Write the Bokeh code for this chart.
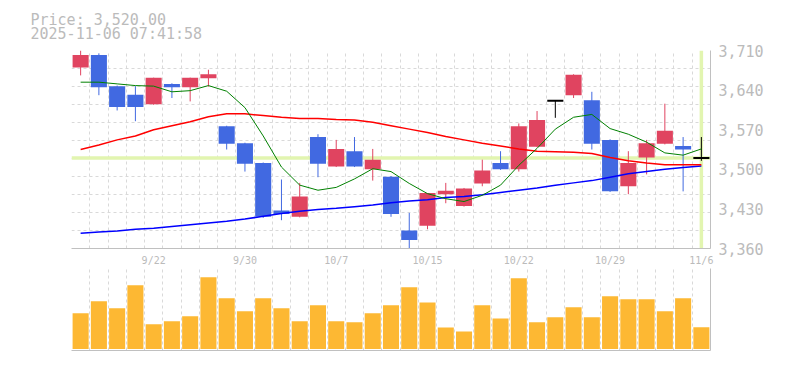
from bokeh.plotting import figure
from bokeh.layouts import column
from bokeh.models import ColumnDataSource, FixedTicker, Span, Range1d, NumeralTickFormatter
from bokeh.embed import file_html
from bokeh.resources import INLINE

# ---- data ----
dates = ["9/16", "9/17", "9/18", "9/19", "9/22", "9/24", "9/25", "9/26", "9/29", "9/30",
         "10/1", "10/2", "10/3", "10/6", "10/7", "10/8", "10/9", "10/10", "10/14", "10/15",
         "10/16", "10/17", "10/20", "10/21", "10/22", "10/23", "10/24", "10/27", "10/28", "10/29",
         "10/30", "10/31", "11/4", "11/5", "11/6"]
labeled_dates = ["9/22", "9/30", "10/7", "10/15", "10/22", "10/29", "11/6"]

open_ = [3680, 3702, 3647, 3632, 3615, 3651, 3645, 3661, 3576, 3546,
         3511, 3427, 3416, 3557, 3505, 3532, 3500, 3487, 3392, 3400,
         3456, 3435, 3475, 3511, 3500, 3540, 3621, 3631, 3622, 3552,
         3470, 3521, 3545, 3541, 3520]
high = [3710, 3705, 3648, 3647, 3662, 3652, 3662, 3676, 3577, 3547,
        3512, 3482, 3476, 3562, 3552, 3557, 3536, 3488, 3423, 3458,
        3476, 3467, 3517, 3532, 3581, 3603, 3621, 3668, 3637, 3553,
        3532, 3552, 3616, 3557, 3557]
low = [3666, 3631, 3604, 3585, 3614, 3626, 3620, 3646, 3535, 3496,
       3414, 3410, 3415, 3486, 3504, 3504, 3480, 3416, 3360, 3394,
       3440, 3434, 3470, 3499, 3496, 3539, 3591, 3626, 3535, 3460,
       3456, 3491, 3544, 3461, 3515]
close = [3702, 3645, 3610, 3610, 3662, 3645, 3662, 3668, 3545, 3510,
         3416, 3421, 3452, 3510, 3536, 3505, 3517, 3421, 3375, 3458,
         3462, 3466, 3498, 3500, 3576, 3587, 3621, 3667, 3545, 3461,
         3511, 3546, 3568, 3535, 3520]
ma5 = [3654, 3654, 3651, 3648, 3647, 3637, 3639, 3648, 3638, 3609,
       3559, 3504, 3472, 3463, 3468, 3483, 3501, 3496, 3475, 3457,
       3448, 3443, 3454, 3472, 3507, 3537, 3571, 3592, 3597, 3572,
       3562, 3548, 3529, 3525, 3536]
ma25 = [3535, 3543, 3552, 3559, 3570, 3577, 3584, 3593, 3598, 3598,
        3595, 3592, 3590, 3590, 3588, 3587, 3583, 3577, 3571, 3565,
        3558, 3552, 3546, 3541, 3536, 3532, 3531, 3530, 3528, 3521,
        3515, 3511, 3508, 3508, 3508]
ma75 = [3387, 3389, 3391, 3394, 3396, 3399, 3402, 3405, 3408, 3412,
        3417, 3422, 3426, 3429, 3431, 3434, 3437, 3441, 3444, 3446,
        3450, 3452, 3455, 3459, 3463, 3467, 3472, 3476, 3480, 3486,
        3492, 3496, 3500, 3503, 3506]
volume = [358, 478, 408, 638, 248, 278, 328, 718, 508, 378,
          508, 408, 278, 438, 278, 268, 358, 438, 618, 465,
          215, 175, 438, 305, 708, 268, 318, 418, 318, 528,
          498, 498, 378, 508, 218]  # thousand shares
last_price = 3520
price_ticks = [3360, 3430, 3500, 3570, 3640, 3710]
header_lines = ["Price: 3,520.00", "2025-11-06 07:41:58"]

# ---- styles ----
UP = "#e04460"
DOWN = "#4169e1"
FLAT = "#000000"
GRID = "#d9d9d9"
TXT = "#bbbbbb"
AXL = "#c0c0c0"
FONT = "DejaVu Sans Mono"
CROSS = "#e2f5b0"

idx = list(range(len(dates)))
colors = [UP if c > o else (DOWN if c < o else FLAT) for o, c in zip(open_, close)]
src = ColumnDataSource(dict(
    x=idx, open=open_, high=high, low=low, close=close,
    color=colors, ma5=ma5, ma25=ma25, ma75=ma75, vol=volume))
flat_idx = [i for i in idx if open_[i] == close[i]]
flat_src = ColumnDataSource(dict(x=flat_idx, y=[close[i] for i in flat_idx]))
body_idx = [i for i in idx if open_[i] != close[i]]
body_src = ColumnDataSource(dict(
    x=body_idx,
    top=[max(open_[i], close[i]) for i in body_idx],
    bottom=[min(open_[i], close[i]) for i in body_idx],
    color=[colors[i] for i in body_idx]))

xr = Range1d(-0.5, len(dates) - 0.5)
bounds = [i - 0.5 for i in range(len(dates) + 1)]

W = 780
p = figure(width=W, height=268, x_range=xr, y_range=Range1d(3360, 3710),
           y_axis_location="right", output_backend="svg", toolbar_location=None,
           min_border_left=71, min_border_right=70, min_border_top=50, min_border_bottom=18,
           title="\n".join(header_lines))
p.title.text_font = FONT
p.title.text_font_size = "15px"
p.title.text_font_style = "normal"
p.title.text_color = TXT
p.title.text_line_height = 0.79
p.title.align = "left"
p.title.offset = -48
p.title.standoff = 0
p.title.padding = 7
p.outline_line_color = None

p.xgrid.ticker = FixedTicker(ticks=bounds)
p.ygrid.ticker = FixedTicker(ticks=[3360 + k * 350 / 11 for k in range(12)])
for g in (p.xgrid, p.ygrid):
    g.grid_line_color = GRID
    g.grid_line_dash = "3 3"
    g.grid_line_width = 1

p.yaxis.ticker = FixedTicker(ticks=price_ticks)
p.yaxis.formatter = NumeralTickFormatter(format="0,0")
p.xaxis.ticker = FixedTicker(ticks=[dates.index(d) for d in labeled_dates])
p.xaxis.major_label_overrides = {dates.index(d): d for d in labeled_dates}
for ax in (p.xaxis, p.yaxis):
    ax.axis_line_color = AXL
    ax.major_tick_line_color = None
    ax.minor_tick_line_color = None
    ax.major_tick_out = 0
    ax.major_tick_in = 0
    ax.minor_tick_out = 0
    ax.major_label_text_color = TXT
    ax.major_label_text_font = FONT
p.yaxis.major_label_text_font_size = "15px"
p.yaxis.major_label_standoff = 8
p.xaxis.major_label_text_font_size = "10px"
p.xaxis.major_label_standoff = 6

p.add_layout(Span(location=last_price, dimension="width", line_color=CROSS,
                  line_width=3.5, level="underlay"))
p.add_layout(Span(location=idx[-1], dimension="height", line_color=CROSS,
                  line_width=3.5, level="underlay"))

p.segment(x0="x", y0="low", x1="x", y1="high", color="color", line_width=1, source=src)
p.vbar(x="x", width=0.88, top="top", bottom="bottom", fill_color="color",
       line_color=None, source=body_src)
p.rect(x="x", y="y", width=0.88, height=2, height_units="screen", fill_color=FLAT,
       line_color=None, source=flat_src)
p.line("x", "ma75", color="#0000ff", line_width=1.5, source=src)
p.line("x", "ma25", color="#ff0000", line_width=1.5, source=src)
p.line("x", "ma5", color="#008000", line_width=1, source=src)

v = figure(width=W, height=92, x_range=xr, y_range=Range1d(-15, 805),
           y_axis_location="right", output_backend="svg", toolbar_location=None,
           min_border_left=71, min_border_right=70, min_border_top=0, min_border_bottom=10)
v.outline_line_color = None
v.xgrid.ticker = FixedTicker(ticks=bounds)
v.xgrid.grid_line_color = GRID
v.xgrid.grid_line_dash = "3 3"
v.ygrid.visible = False
v.xaxis.ticker = FixedTicker(ticks=[])
v.yaxis.ticker = FixedTicker(ticks=[])
for ax in (v.xaxis, v.yaxis):
    ax.axis_line_color = AXL
    ax.major_tick_line_color = None
    ax.minor_tick_line_color = None
    ax.major_tick_out = 0
    ax.major_tick_in = 0
v.vbar(x="x", width=0.88, top="vol", bottom=0, fill_color="#fdb833", line_color=None, source=src)

layout = column(p, v, spacing=0)
open("out.html", "w").write(file_html(layout, INLINE))
